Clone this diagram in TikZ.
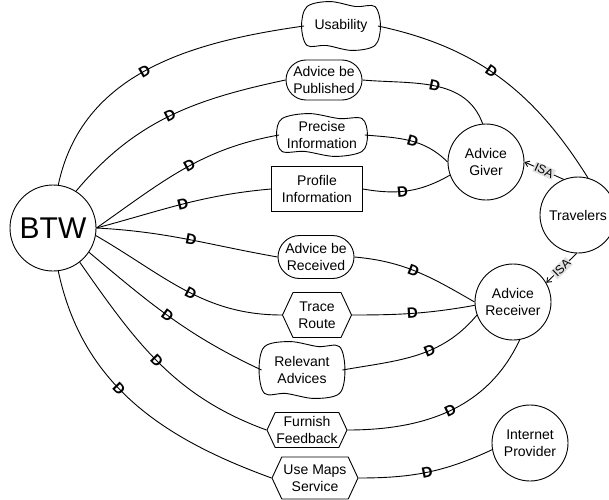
\documentclass[tikz,border=0pt]{standalone}
\usepackage{fontspec}
\setmainfont{Liberation Sans}
\usetikzlibrary{shapes.misc,shapes.symbols,arrows.meta,decorations.markings,calc}

\tikzset{
  every node/.style={font=\fontsize{14}{17}\selectfont,align=center},
  actor/.style={draw,circle,minimum size=76pt,inner sep=0pt},
  goal/.style={draw,rounded rectangle,minimum height=40pt,inner xsep=6pt},
  task/.style={draw,signal,signal to=west and east,signal pointer angle=130,inner xsep=1pt},
  resource/.style={draw,rectangle,minimum height=45pt,inner xsep=8pt},
  softgoal/.style={inner sep=0pt},
  dmark/.style={transform shape,font=\bfseries\fontsize{15}{15}\selectfont,inner sep=0pt},
  dep/.style={postaction={decorate},decoration={markings,mark=at position #1 with {\node[dmark]{D};}}},
  dep/.default=.5,
  isa/.style={-{Straight Barb[length=4pt,width=6pt]}},
  isalabel/.style={sloped,fill=black!12,inner sep=1pt,font=\fontsize{12}{12}\selectfont},
}

% wavy outline of a softgoal
\newcommand\sgborder[1]{%
  \draw plot[smooth cycle,tension=.55] coordinates {
    ([shift={(3pt,-2pt)}]#1.north west)
    ($(#1.north west)!.35!(#1.north east)+(0,3pt)$)
    ($(#1.north west)!.7!(#1.north east)+(0,-2pt)$)
    ([shift={(-3pt,-2pt)}]#1.north east)
    ($(#1.east)+(2.5pt,0)$)
    ([shift={(-3pt,2pt)}]#1.south east)
    ($(#1.south west)!.65!(#1.south east)+(0,-3pt)$)
    ($(#1.south west)!.3!(#1.south east)+(0,2pt)$)
    ([shift={(3pt,2pt)}]#1.south west)
    ($(#1.west)+(-2.5pt,0)$)
  };}

\begin{document}
\begin{tikzpicture}[x=1pt,y=1pt,line width=.9pt]
\useasboundingbox (0,0) rectangle (609,499);

% actors
\node[actor,minimum size=86pt,font=\fontsize{30}{30}\selectfont] (btw) at (53,271) {BTW};
\node[actor] (giver) at (486,337) {Advice\\Giver};
\node[actor] (trav) at (578,284) {Travelers};
\node[actor] (recvr) at (513,197) {Advice\\Receiver};
\node[actor] (inet) at (530,56) {Internet\\Provider};

% dependums
\node[softgoal,minimum width=73pt,minimum height=42pt] (us) at (341,473) {Usability};
\node[goal,minimum width=88pt] (pub) at (324,419) {Advice be\\Published};
\node[softgoal,minimum width=85pt,minimum height=36pt] (prec) at (322,364) {Precise\\Information};
\node[resource,minimum width=91pt] (prof) at (317,310) {Profile\\Information};
\node[goal,minimum width=88pt,minimum height=43pt] (recv) at (316,242) {Advice be\\Received};
\node[task,minimum width=69pt,minimum height=45pt] (trace) at (317,184) {Trace\\Route};
\node[softgoal,minimum width=80pt,minimum height=50pt] (relev) at (302,129) {Relevant\\Advices};
\node[task,minimum width=80pt,minimum height=35pt,inner ysep=0pt] (furn) at (307,69) {Furnish\\Feedback};
\node[task,minimum width=86pt,minimum height=42pt] (maps) at (315,21) {Use Maps\\Service};
\sgborder{us}
\sgborder{prec}
\sgborder{relev}

% dependencies
\draw[dep=.47] (btw.83) to[out=78,in=188] (us.west);
\draw[dep=.46] (us.east) to[out=-12,in=122] (trav.75);
\draw[dep=.5] (btw.58) to[out=50,in=192] (pub.west);
\draw[dep=.53] (pub.east) to[out=-5,in=110] (giver.95);
\draw[dep=.54] (btw.east) to[out=35,in=190] (prec.west);
\draw[dep=.54] (prec.east) to[out=-5,in=135] (giver.180);
\draw[dep=.5] (btw.east) to[out=15,in=185] (prof.west);
\draw[dep=.44] (prof.east) to[out=-10,in=210] (giver.200);
\draw[dep=.52] (btw.east) to[out=-3,in=170] (recv.west);
\draw[dep=.47] (recv.east) to[out=-5,in=150] (recvr.180);
\draw[dep=.54] (btw.-10) to[out=-30,in=180] (trace.west);
\draw[dep=.49] (trace.east) to[out=0,in=190] (recvr.185);
\draw[dep=.48] (btw.-34) to[out=-40,in=155] (relev.west);
\draw[dep=.6] (relev.east) to[out=10,in=230] (recvr.200);
\draw[dep=.49] (btw.-52) to[out=-55,in=160] (furn.west);
\draw[dep=.51] (furn.east) to[out=0,in=-115] (recvr.-80);
\draw[dep=.43] (btw.-83) to[out=-78,in=160] (maps.west);
\draw[dep=.5] (maps.east) to[out=0,in=205] (inet.190);

% is-a links
\draw[isa] (trav.112) -- node[isalabel]{ISA} (giver.east);
\draw[isa] (trav.-92) -- node[isalabel]{ISA} (recvr.30);
\end{tikzpicture}
\end{document}
